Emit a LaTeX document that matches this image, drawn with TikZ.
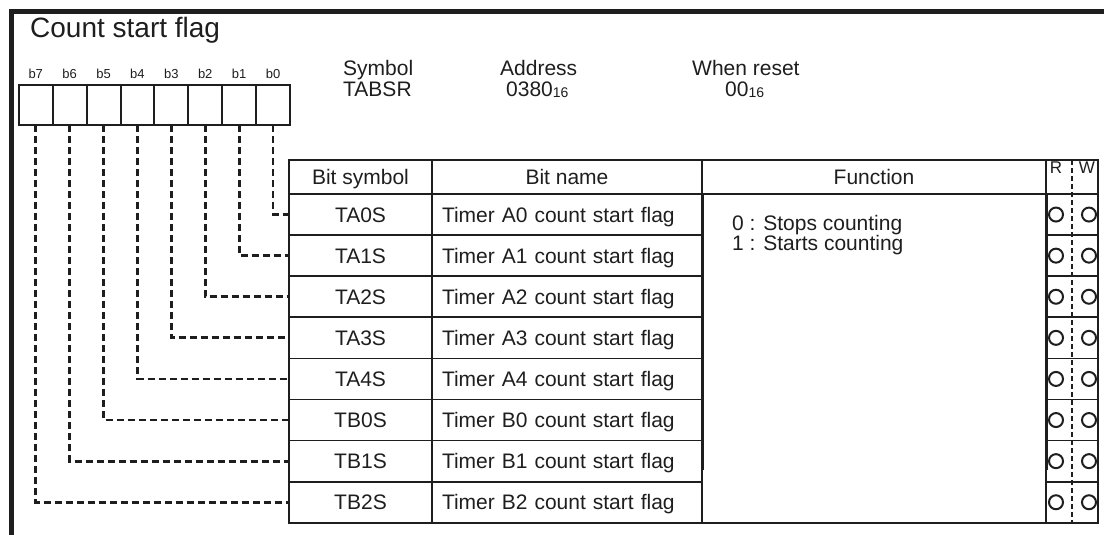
\documentclass[tikz,border=0pt]{standalone}
\usepackage{fontspec}
\setmainfont{Liberation Sans}
\usetikzlibrary{positioning}
\definecolor{ink}{HTML}{1E1E1E}
\newcommand\hexsub[1]{{\fontsize{14}{14}\selectfont\raisebox{-1pt}{#1}}}
\tikzset{
  cell/.style={draw=ink, line width=1.7pt, inner sep=0pt, outer sep=0pt, text height=15pt, text depth=0pt, font=\fontsize{21}{25}\selectfont, text=ink},
  bitbox/.style={draw=ink, line width=2pt, minimum width=33.9pt, minimum height=40pt, inner sep=0pt, outer sep=0pt},
  link/.style={draw=ink, line width=2.8pt, dash pattern=on 7pt off 4pt},
  rwsep/.style={draw=ink, line width=1.8pt, dash pattern=on 5pt off 3pt},
  rwmark/.style={draw=ink, circle, line width=2pt, minimum size=14pt, inner sep=0pt},
  plain/.style={text=ink, inner sep=0pt, font=\fontsize{21}{25}\selectfont}
}
\begin{document}
\begin{tikzpicture}[x=1pt, y=-1pt]
\useasboundingbox (0,0) rectangle (1104,535);
\draw[ink, line width=4.5pt] (11.5,535) -- (11.5,11.5) -- (1104,11.5);

\node[plain, anchor=base west, font=\fontsize{28}{32}\selectfont] (title) at (30,38) {Count start flag};

% register bits
\foreach \i in {0,...,7} {
  \node[bitbox] (b\i) at ({290-33.9*(\i+0.5)},105) {};
  \node[plain, anchor=base, font=\fontsize{13}{15}\selectfont] (bl\i) at ({290-33.9*(\i+0.5)},78) {b\i};
}

% register info
\node[plain, anchor=base west] (symlbl) at (343,76) {Symbol};
\node[plain, anchor=base west] (symval) at (343,97) {TABSR};
\node[plain, anchor=base west] (adrlbl) at (500,76) {Address};
\node[plain, anchor=base west] (adrval) at (506,97) {0380\hexsub{16}};
\node[plain, anchor=base west] (rstlbl) at (692,76) {When reset};
\node[plain, anchor=base west] (rstval) at (725,97) {00\hexsub{16}};

% table header
\node[cell, minimum width=143pt, minimum height=34pt] (hsym) at (360.5,177) {Bit symbol};
\node[cell, minimum width=270pt, minimum height=34pt, right=0pt of hsym] (hname) {Bit name};
\node[cell, minimum width=344pt, minimum height=34pt, right=0pt of hname] (hfunc) {Function};
\node[cell, minimum width=52pt, minimum height=34pt, right=0pt of hfunc] (hrw) {};
\node[plain, anchor=base, font=\fontsize{17}{17}\selectfont] (rlbl) at (1056,173) {R};
\node[plain, anchor=base, font=\fontsize{17}{17}\selectfont] (wlbl) at (1087,173) {W};

% function cell
\node[cell, minimum width=344pt, minimum height=329pt, below=0pt of hfunc] (func) {};
\draw[ink, line width=3pt] (func.north west) -- ++(0,276);
\draw[ink, line width=3pt] (func.north east) -- ++(0,276);
\node[plain, anchor=base west] (f0) at (732,230) {0 : Stops counting};
\node[plain, anchor=base west] (f1) at (732,250) {1 : Starts counting};

% bit rows
\foreach \s/\n [count=\i from 0] in {TA0S/A0,TA1S/A1,TA2S/A2,TA3S/A3,TA4S/A4,TB0S/B0,TB1S/B1,TB2S/B2} {
  \node[cell, minimum width=143pt, minimum height=41.1pt] (sym\i) at (360.5,{214.55+41.1*\i}) {\s};
  \node[cell, minimum width=270pt, minimum height=41.1pt, text width=250pt, align=left, right=0pt of sym\i] (name\i) {Timer \n\ count start flag};
  \node[cell, minimum width=52pt, minimum height=41.1pt] (rw\i) at (1072,{214.55+41.1*\i}) {};
  \node[rwmark] (r\i) at (1056,{214.55+41.1*\i}) {};
  \node[rwmark] (w\i) at (1089,{214.55+41.1*\i}) {};
  \draw[link] (b\i.south) |- (sym\i.west);
}
\draw[rwsep] (hrw.north) -- (rw7.south);
\end{tikzpicture}
\end{document}
